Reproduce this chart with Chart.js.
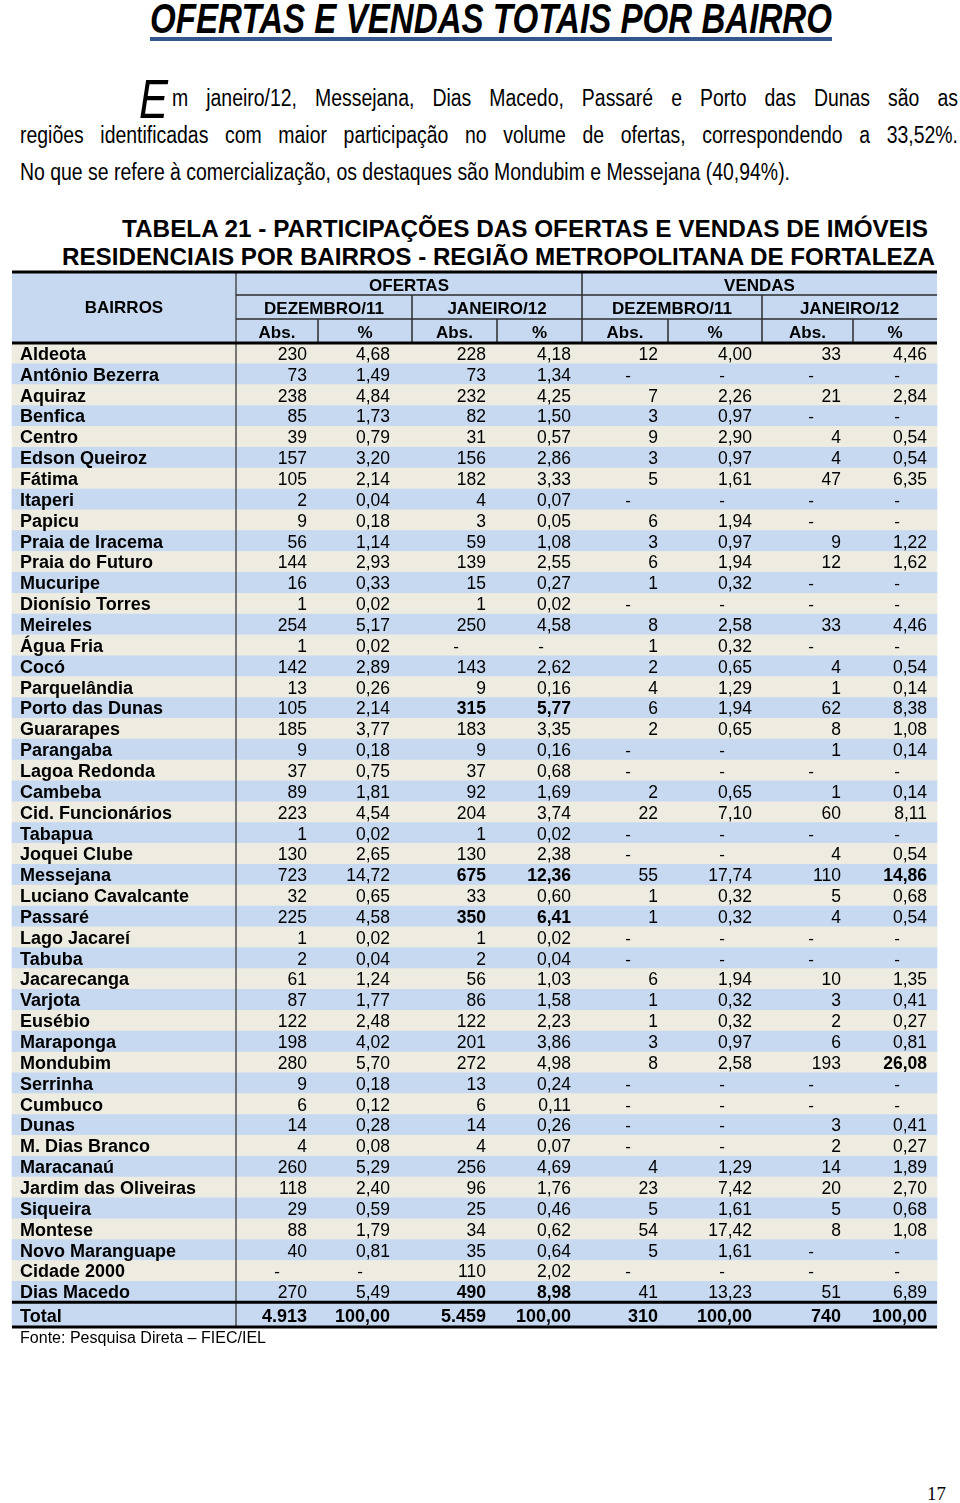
<!DOCTYPE html>
<html lang="pt-BR">
<head>
<meta charset="utf-8">
<title>Ofertas e vendas totais por bairro</title>
<script src="https://cdn.jsdelivr.net/npm/chart.js@4.4.1/dist/chart.umd.min.js"></script>
<style>
  html, body { margin: 0; padding: 0; background: #fff; }
  #page { position: relative; width: 960px; height: 1503px; overflow: hidden; font-family: "Liberation Sans", Arial, sans-serif; color: #000; }
  .fit { position: absolute; white-space: nowrap; transform-origin: 0 0; }
  #tabela { position: absolute; left: 0; top: 268px; }
  #linha-titulo { position: absolute; left: 150px; top: 37px; width: 682px; height: 4px; background: #34578f; }
</style>
</head>
<body>
<div id="page">
  <div class="fit" data-x="150" data-w="682" data-cy="19" style="font: italic bold 42px 'Liberation Sans', Arial, sans-serif;">OFERTAS E VENDAS TOTAIS POR BAIRRO</div>
  <div id="linha-titulo"></div>

  <div class="fit" data-x="139" data-w="29" data-cy="98" style="font: italic 56px 'Liberation Sans', Arial, sans-serif;">E</div>
  <div class="fit par" data-x="172" data-w="786" data-cy="98" data-justify="1">m janeiro/12, Messejana, Dias Macedo, Passaré e Porto das Dunas são as</div>
  <div class="fit par" data-x="20" data-w="938" data-cy="135" data-justify="1">regiões identificadas com maior participação no volume de ofertas, correspondendo a 33,52%.</div>
  <div class="fit par" data-x="20" data-w="770" data-cy="172" id="par-ref">No que se refere à comercialização, os destaques são Mondubim e Messejana (40,94%).</div>

  <div class="fit" data-x="122" data-w="806" data-cy="229" style="font: bold 24px 'Liberation Sans', Arial, sans-serif;">TABELA 21 - PARTICIPAÇÕES DAS OFERTAS E VENDAS DE IMÓVEIS</div>
  <div class="fit" data-x="62" data-w="873" data-cy="257" style="font: bold 24px 'Liberation Sans', Arial, sans-serif;">RESIDENCIAIS POR BAIRROS - REGIÃO METROPOLITANA DE FORTALEZA</div>

  <canvas id="tabela" width="960" height="1064"></canvas>

  <div class="fit" data-x="20" data-w="246" data-cy="1338" style="font: 16px 'Liberation Sans', Arial, sans-serif;">Fonte: Pesquisa Direta – FIEC/IEL</div>
  <div class="fit" data-x="927" data-w="19" data-cy="1493" style="font: 19px 'Liberation Serif', 'Times New Roman', serif;">17</div>
</div>

<script>
'use strict';

// ************* DADOS *******************
// null = "-" na tabela

let bairros = [
  'Aldeota', 'Antônio Bezerra', 'Aquiraz', 'Benfica', 'Centro', 'Edson Queiroz', 'Fátima', 'Itaperi',
  'Papicu', 'Praia de Iracema', 'Praia do Futuro', 'Mucuripe', 'Dionísio Torres', 'Meireles', 'Água Fria',
  'Cocó', 'Parquelândia', 'Porto das Dunas', 'Guararapes', 'Parangaba', 'Lagoa Redonda', 'Cambeba',
  'Cid. Funcionários', 'Tabapua', 'Joquei Clube', 'Messejana', 'Luciano Cavalcante', 'Passaré',
  'Lago Jacareí', 'Tabuba', 'Jacarecanga', 'Varjota', 'Eusébio', 'Maraponga', 'Mondubim', 'Serrinha',
  'Cumbuco', 'Dunas', 'M. Dias Branco', 'Maracanaú', 'Jardim das Oliveiras', 'Siqueira', 'Montese',
  'Novo Maranguape', 'Cidade 2000', 'Dias Macedo'
];

// OFERTAS - dezembro/11
let ofertasDezAbs = [230, 73, 238, 85, 39, 157, 105, 2, 9, 56, 144, 16, 1, 254, 1, 142, 13, 105, 185, 9, 37, 89,
  223, 1, 130, 723, 32, 225, 1, 2, 61, 87, 122, 198, 280, 9, 6, 14, 4, 260, 118, 29, 88, 40, null, 270];
let ofertasDezPct = [4.68, 1.49, 4.84, 1.73, 0.79, 3.20, 2.14, 0.04, 0.18, 1.14, 2.93, 0.33, 0.02, 5.17, 0.02,
  2.89, 0.26, 2.14, 3.77, 0.18, 0.75, 1.81, 4.54, 0.02, 2.65, 14.72, 0.65, 4.58, 0.02, 0.04, 1.24, 1.77, 2.48,
  4.02, 5.70, 0.18, 0.12, 0.28, 0.08, 5.29, 2.40, 0.59, 1.79, 0.81, null, 5.49];

// OFERTAS - janeiro/12
let ofertasJanAbs = [228, 73, 232, 82, 31, 156, 182, 4, 3, 59, 139, 15, 1, 250, null, 143, 9, 315, 183, 9, 37,
  92, 204, 1, 130, 675, 33, 350, 1, 2, 56, 86, 122, 201, 272, 13, 6, 14, 4, 256, 96, 25, 34, 35, 110, 490];
let ofertasJanPct = [4.18, 1.34, 4.25, 1.50, 0.57, 2.86, 3.33, 0.07, 0.05, 1.08, 2.55, 0.27, 0.02, 4.58, null,
  2.62, 0.16, 5.77, 3.35, 0.16, 0.68, 1.69, 3.74, 0.02, 2.38, 12.36, 0.60, 6.41, 0.02, 0.04, 1.03, 1.58, 2.23,
  3.86, 4.98, 0.24, 0.11, 0.26, 0.07, 4.69, 1.76, 0.46, 0.62, 0.64, 2.02, 8.98];

// VENDAS - dezembro/11
let vendasDezAbs = [12, null, 7, 3, 9, 3, 5, null, 6, 3, 6, 1, null, 8, 1, 2, 4, 6, 2, null, null, 2, 22, null,
  null, 55, 1, 1, null, null, 6, 1, 1, 3, 8, null, null, null, null, 4, 23, 5, 54, 5, null, 41];
let vendasDezPct = [4.00, null, 2.26, 0.97, 2.90, 0.97, 1.61, null, 1.94, 0.97, 1.94, 0.32, null, 2.58, 0.32,
  0.65, 1.29, 1.94, 0.65, null, null, 0.65, 7.10, null, null, 17.74, 0.32, 0.32, null, null, 1.94, 0.32, 0.32,
  0.97, 2.58, null, null, null, null, 1.29, 7.42, 1.61, 17.42, 1.61, null, 13.23];

// VENDAS - janeiro/12
let vendasJanAbs = [33, null, 21, null, 4, 4, 47, null, null, 9, 12, null, null, 33, null, 4, 1, 62, 8, 1, null,
  1, 60, null, 4, 110, 5, 4, null, null, 10, 3, 2, 6, 193, null, null, 3, 2, 14, 20, 5, 8, null, null, 51];
let vendasJanPct = [4.46, null, 2.84, null, 0.54, 0.54, 6.35, null, null, 1.22, 1.62, null, null, 4.46, null,
  0.54, 0.14, 8.38, 1.08, 0.14, null, 0.14, 8.11, null, 0.54, 14.86, 0.68, 0.54, null, null, 1.35, 0.41, 0.27,
  0.81, 26.08, null, null, 0.41, 0.27, 1.89, 2.70, 0.68, 1.08, null, null, 6.89];

let totalLabel = 'Total';
let totais = [4913, 100, 5459, 100, 310, 100, 740, 100];

// celulas em negrito [linha, coluna]
let destaques = [[17, 2], [17, 3], [25, 2], [25, 3], [25, 7], [27, 2], [27, 3], [34, 7], [45, 2], [45, 3]];

// cabecalho
let grupos = ['OFERTAS', 'VENDAS'];
let meses = ['DEZEMBRO/11', 'JANEIRO/12', 'DEZEMBRO/11', 'JANEIRO/12'];
let subCols = ['Abs.', '%', 'Abs.', '%', 'Abs.', '%', 'Abs.', '%'];

// ************* LAYOUT *******************
const BLUE = '#c6d9f1';
const BEIGE = '#eeece1';
const colEdges = [12, 236, 318, 412, 497, 582, 668, 762, 853, 937];
const colRight = [307, 390, 486, 571, 658, 752, 841, 927];
const FONT = '"Liberation Sans", Arial, sans-serif';
const TOTAL_POS = bairros.length + 0.1; // total row sits a bit lower (taller row)
const Y_MAX = bairros.length + 0.69;

let colunas = [ofertasDezAbs, ofertasDezPct, ofertasJanAbs, ofertasJanPct,
  vendasDezAbs, vendasDezPct, vendasJanAbs, vendasJanPct];

function formatAbs(n) {
  return String(n).replace(/\B(?=(\d{3})+(?!\d))/g, '.');
}
function formatPct(n) {
  return n.toFixed(2).replace('.', ',');
}
function isBold(r, c) {
  for (let i = 0; i < destaques.length; i++) {
    if (destaques[i][0] === r && destaques[i][1] === c) return true;
  }
  return false;
}

// ++++ html text: narrow font look +++++
function place(el) {
  let fs = parseFloat(getComputedStyle(el).fontSize);
  el.style.lineHeight = fs + 'px';
  el.style.left = el.dataset.x + 'px';
  el.style.top = (parseFloat(el.dataset.cy) - 0.49 * fs) + 'px';
}

// paragraph lines share one horizontal squeeze, justified lines get word spacing
let pars = document.querySelectorAll('.par');
pars.forEach(function (el) {
  el.style.font = '23px "Liberation Sans", Arial, sans-serif';
  place(el);
});
let parRef = document.getElementById('par-ref');
let squeeze = parseFloat(parRef.dataset.w) / parRef.getBoundingClientRect().width;
pars.forEach(function (el) {
  if (el.dataset.justify) {
    let natural = el.getBoundingClientRect().width;
    let spaces = el.textContent.split(' ').length - 1;
    let extra = (parseFloat(el.dataset.w) / squeeze - natural) / spaces;
    el.style.wordSpacing = extra + 'px';
  }
  el.style.transform = 'scaleX(' + squeeze + ')';
});

document.querySelectorAll('.fit:not(.par)').forEach(function (el) {
  place(el);
  let w = el.getBoundingClientRect().width;
  el.style.transform = 'scaleX(' + (parseFloat(el.dataset.w) / w) + ')';
});

function hline(ctx, x1, x2, y, w, color) {
  ctx.beginPath();
  ctx.strokeStyle = color;
  ctx.lineWidth = w;
  ctx.moveTo(x1, y);
  ctx.lineTo(x2, y);
  ctx.stroke();
}
function vline(ctx, x, y1, y2, w, color) {
  ctx.beginPath();
  ctx.strokeStyle = color;
  ctx.lineWidth = w;
  ctx.moveTo(x, y1);
  ctx.lineTo(x, y2);
  ctx.stroke();
}

function drawRow(ctx, px, base, label, values, boldAll, r) {
  ctx.textAlign = 'left';
  ctx.font = 'bold 18px ' + FONT;
  ctx.fillText(label, px(20), base);
  for (let c = 0; c < 8; c++) {
    const v = values[c];
    if (v === null) {
      ctx.font = '17px ' + FONT;
      ctx.textAlign = 'center';
      ctx.fillText('-', px(colRight[c] - 30), base);
      continue;
    }
    ctx.font = boldAll ? 'bold 18px ' + FONT : (isBold(r, c) ? 'bold ' : '') + '17.5px ' + FONT;
    ctx.textAlign = 'right';
    ctx.fillText(c % 2 === 0 ? formatAbs(v) : formatPct(v), px(colRight[c]), base);
  }
}

// plugin that draws header, lines and cell texts from the scales
const tablePlugin = {
  id: 'tablePlugin',
  beforeDatasetsDraw(chart) {
    const ctx = chart.ctx;
    const xs = chart.scales.x;
    const top = chart.chartArea.top;
    ctx.save();
    ctx.fillStyle = BLUE;
    ctx.fillRect(xs.getPixelForValue(colEdges[0]), top - 71,
      xs.getPixelForValue(colEdges[9]) - xs.getPixelForValue(colEdges[0]), 71);
    ctx.restore();
  },
  afterDatasetsDraw(chart) {
    const ctx = chart.ctx;
    const xs = chart.scales.x;
    const ys = chart.scales.y;
    const px = v => xs.getPixelForValue(v);
    const top = chart.chartArea.top;
    const L = px(colEdges[0]);
    const R = px(colEdges[9]);
    const yTop = top - 71, y1 = top - 48, y2 = top - 24;
    const yTot = ys.getPixelForValue(bairros.length - 0.5);
    const yEnd = ys.getPixelForValue(Y_MAX);

    ctx.save();
    ctx.fillStyle = '#000';
    ctx.textBaseline = 'alphabetic';

    // header texts
    ctx.font = 'bold 17px ' + FONT;
    ctx.textAlign = 'center';
    ctx.fillText('BAIRROS', (px(colEdges[0]) + px(colEdges[1])) / 2, (yTop + top) / 2 + 5);
    ctx.fillText(grupos[0], (px(colEdges[1]) + px(colEdges[5])) / 2, (yTop + y1) / 2 + 7);
    ctx.fillText(grupos[1], (px(colEdges[5]) + px(colEdges[9])) / 2, (yTop + y1) / 2 + 7);
    for (let m = 0; m < 4; m++) {
      ctx.fillText(meses[m], (px(colEdges[1 + 2 * m]) + px(colEdges[3 + 2 * m])) / 2, (y1 + y2) / 2 + 7);
    }
    for (let s = 0; s < 8; s++) {
      ctx.fillText(subCols[s], (px(colEdges[1 + s]) + px(colEdges[2 + s])) / 2, (y2 + top) / 2 + 7);
    }

    // body texts
    for (let r = 0; r < bairros.length; r++) {
      drawRow(ctx, px, ys.getPixelForValue(r) + 6.5, bairros[r], colunas.map(col => col[r]), false, r);
    }
    drawRow(ctx, px, ys.getPixelForValue(TOTAL_POS) + 7, totalLabel, totais, true, -1);

    // header lines
    const dark = '#2b2b2b';
    hline(ctx, px(colEdges[1]), R, y1, 1.5, dark);
    hline(ctx, px(colEdges[1]), R, y2, 1.5, dark);
    vline(ctx, px(colEdges[5]), yTop, top, 1.5, dark);
    vline(ctx, px(colEdges[3]), y1, top, 1.5, dark);
    vline(ctx, px(colEdges[7]), y1, top, 1.5, dark);
    [2, 4, 6, 8].forEach(i => vline(ctx, px(colEdges[i]), y2, top, 1.5, dark));
    vline(ctx, px(colEdges[1]), yTop, yEnd, 1.2, dark);

    // thick rules
    hline(ctx, L, R, yTop, 3, '#000');
    hline(ctx, L, R, top, 3, '#000');
    hline(ctx, L, R, yTot, 3, '#000');
    hline(ctx, L, R, yEnd, 3, '#000');
    ctx.restore();
  }
};

const ctx = document.getElementById('tabela').getContext('2d');

const chartObj = {
  type: 'bar',
  data: {
    datasets: [{
      label: 'bairros',
      data: bairros.map((b, i) => ({ x: [colEdges[0], colEdges[9]], y: i })),
      backgroundColor: bairros.map((_, i) => i % 2 === 1 ? BLUE : BEIGE),
      borderWidth: 0,
      grouped: false,
      barPercentage: 1,
      categoryPercentage: 1
    }, {
      label: totalLabel,
      data: [{ x: [colEdges[0], colEdges[9]], y: TOTAL_POS }],
      backgroundColor: BLUE,
      borderWidth: 0,
      grouped: false,
      barThickness: 25
    }]
  },
  options: {
    responsive: false,
    animation: false,
    indexAxis: 'y',
    layout: { padding: { top: 75, bottom: 5, left: 0, right: 0 } },
    scales: {
      x: { type: 'linear', min: 0, max: 960, display: false },
      y: { type: 'linear', reverse: true, offset: false, grace: 0, min: -0.5, max: Y_MAX, display: false }
    },
    plugins: {
      legend: { display: false },
      tooltip: { enabled: false }
    }
  },
  plugins: [tablePlugin]
};

const myChart = new Chart(ctx, chartObj); // eslint-disable-line
</script>
</body>
</html>
